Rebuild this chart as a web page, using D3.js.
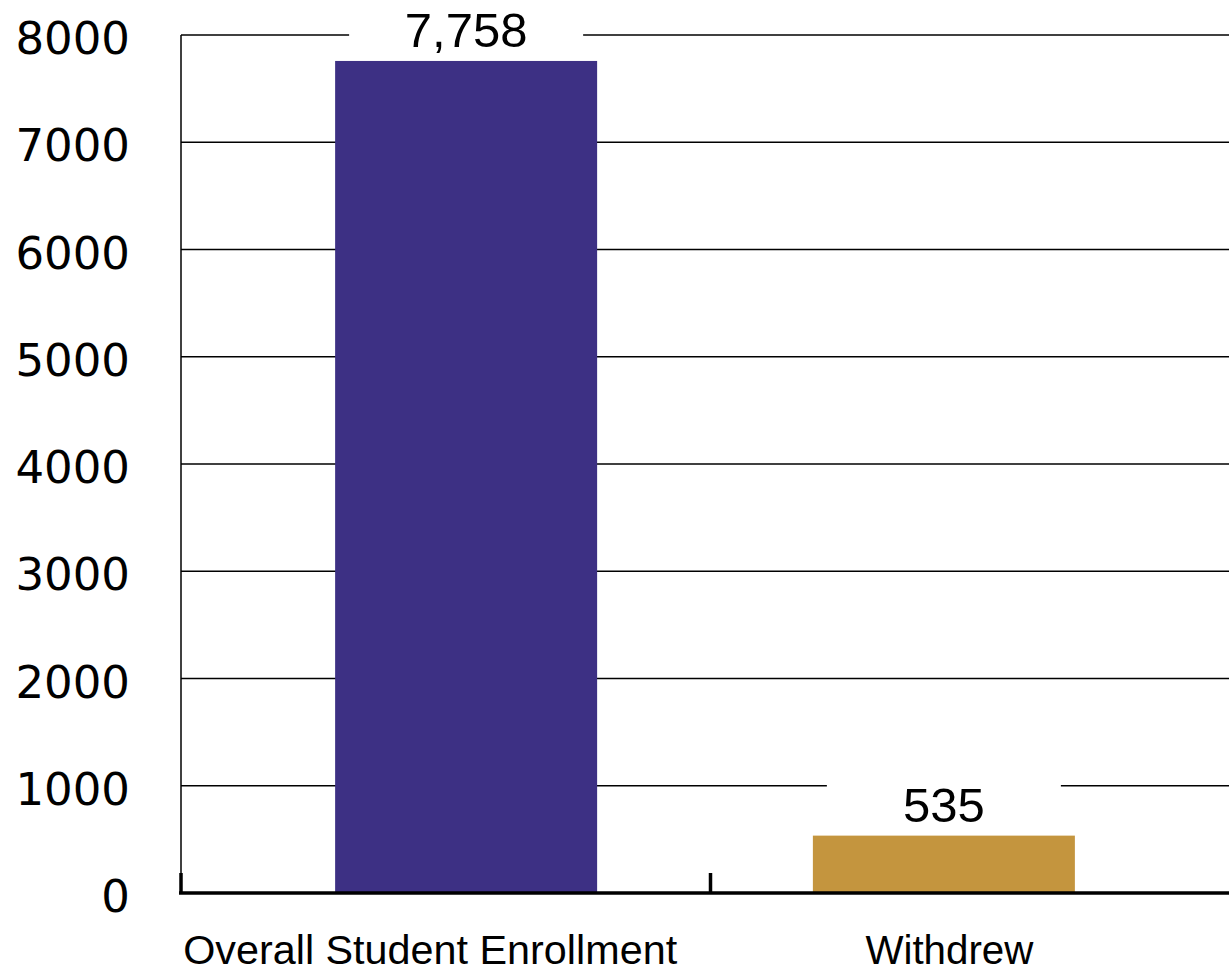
<!DOCTYPE html>
<html lang="en">
<head>
<meta charset="utf-8">
<title>Enrollment vs Withdrew</title>
<script src="https://cdn.jsdelivr.net/npm/d3@7"></script>
<style>
    body { margin: 0; background: #fff; }
    svg { display: block; }
</style>
</head>
<body>
<script>
    // chart data
    var categories = ["Overall Student Enrollment", "Withdrew"];
    var values = [7758, 535];
    var valueLabels = ["7,758", "535"];
    var barColors = ["#3d3084", "#c4953e"];
    var yTicks = [0, 1000, 2000, 3000, 4000, 5000, 6000, 7000, 8000];

    var w = 1229, h = 973;
    // plot edges (don't use "top" - it's window.top)
    var plotLeft = 181, plotRight = 1229, plotTop = 35, plotBottom = 893;
    var barWidth = 262;

    var svg = d3.select("body").append("svg")
        .attr("width", w)
        .attr("height", h);

    var y = d3.scaleLinear().domain([0, 8000]).range([plotBottom, plotTop]);

    // bar centres
    var x = d3.scalePoint().domain(categories).range([227.25, 1182.75]).padding(0.5);

    // gridlines
    svg.append("g").selectAll("line")
        .data(yTicks.filter(function(d) { return d > 0; }))
        .enter().append("line")
        .attr("x1", plotLeft).attr("x2", plotRight)
        .attr("y1", function(d) { return y(d); })
        .attr("y2", function(d) { return y(d); })
        .attr("stroke", "#000")
        .attr("stroke-width", 1.3);

    // left axis line
    svg.append("line")
        .attr("x1", plotLeft).attr("x2", plotLeft)
        .attr("y1", plotTop).attr("y2", plotBottom)
        .attr("stroke", "#000").attr("stroke-width", 1.5);

    // y tick labels
    svg.append("g").selectAll("text")
        .data(yTicks)
        .enter().append("text")
        .attr("x", 130)
        .attr("y", function(d) { return y(d) + 3; })
        .attr("dy", "0.36em")
        .attr("text-anchor", "end")
        .attr("font-family", "DejaVu Sans, sans-serif")
        .attr("font-size", "45px")
        .attr("fill", "#000")
        .text(function(d) { return d; });

    // bars
    svg.append("g").selectAll("rect")
        .data(values)
        .enter().append("rect")
        .attr("x", function(d, i) { return x(categories[i]) - barWidth / 2; })
        .attr("y", function(d) { return y(d); })
        .attr("width", barWidth)
        .attr("height", function(d) { return plotBottom - y(d); })
        .attr("fill", function(d, i) { return barColors[i]; });

    // value labels with white box cutting the gridline
    var lab = svg.append("g").selectAll("g")
        .data(values)
        .enter().append("g")
        .attr("transform", function(d, i) {
            return "translate(" + x(categories[i]) + "," + (y(d) - 14) + ")";
        });
    lab.append("rect")
        .attr("x", -117).attr("width", 234)
        .attr("y", -44).attr("height", 44)
        .attr("fill", "#fff");
    lab.append("text")
        .attr("text-anchor", "middle")
        .attr("font-family", "Liberation Sans, Arial, sans-serif")
        .attr("font-size", "49px")
        .attr("fill", "#000")
        .text(function(d, i) { return valueLabels[i]; });

    // bottom axis
    svg.append("line")
        .attr("x1", plotLeft - 2).attr("x2", plotRight)
        .attr("y1", plotBottom).attr("y2", plotBottom)
        .attr("stroke", "#000").attr("stroke-width", 3.5);

    var step = x.step();
    var boundaries = [plotLeft, x(categories[0]) + step / 2 + 5.5];
    svg.append("g").selectAll("line")
        .data(boundaries)
        .enter().append("line")
        .attr("x1", function(d) { return d; })
        .attr("x2", function(d) { return d; })
        .attr("y1", plotBottom - 20).attr("y2", plotBottom)
        .attr("stroke", "#000").attr("stroke-width", 3.5);

    // category labels
    var labelShift = [-36, 5.5];
    var labelWidth = [494, 168];
    svg.append("g").selectAll("text")
        .data(categories)
        .enter().append("text")
        .attr("x", function(d, i) { return x(d) + labelShift[i]; })
        .attr("y", 964)
        .attr("text-anchor", "middle")
        .attr("font-family", "Liberation Sans Narrow, Liberation Sans, sans-serif")
        .attr("font-size", "41px")
        .attr("textLength", function(d, i) { return labelWidth[i]; })
        .attr("lengthAdjust", "spacingAndGlyphs")
        .attr("fill", "#000")
        .text(function(d) { return d; });
</script>
</body>
</html>
